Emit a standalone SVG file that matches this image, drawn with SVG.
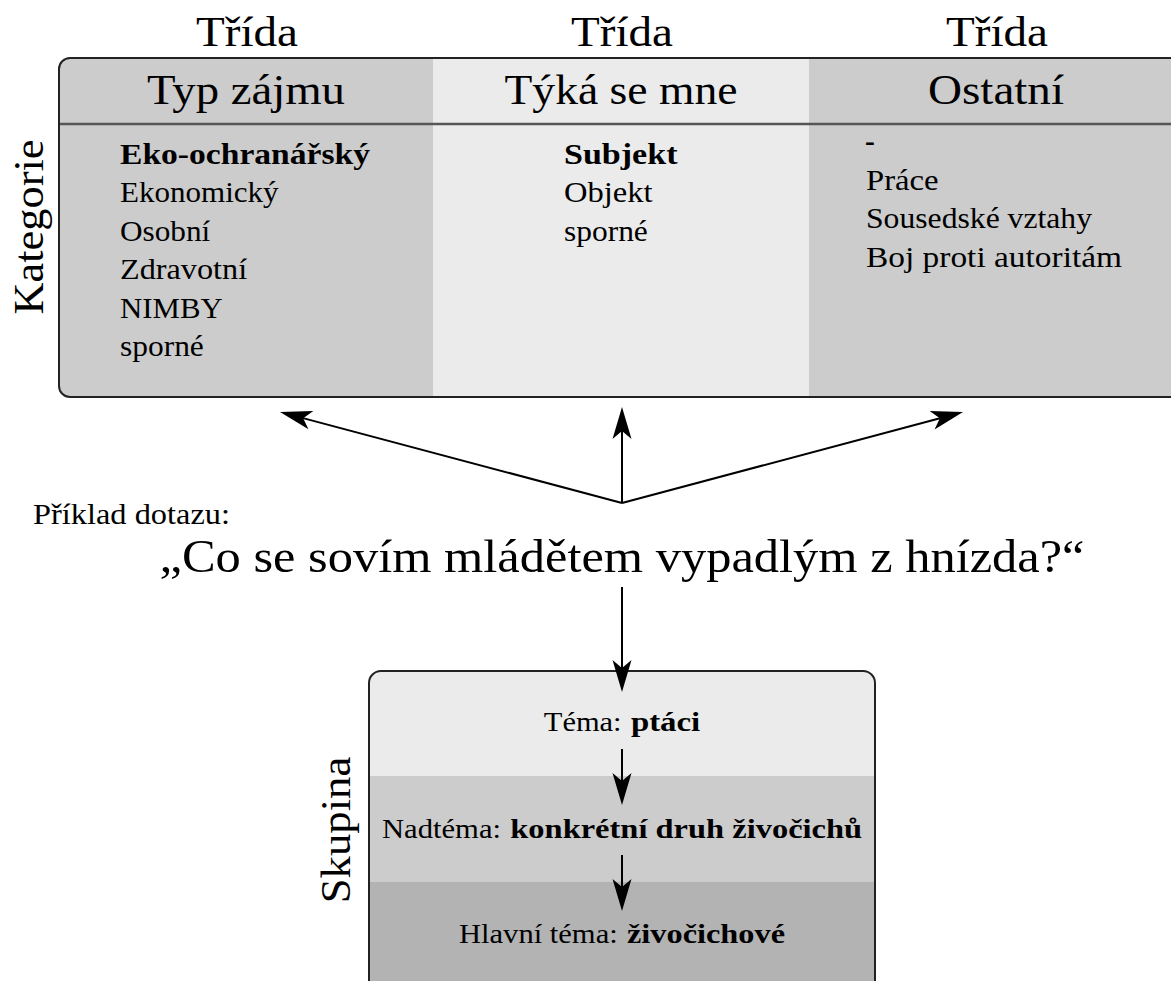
<svg xmlns="http://www.w3.org/2000/svg" width="1171" height="981" viewBox="0 0 1171 981">
  <defs>
    <style>
      .t { font-family: "Liberation Serif", "DejaVu Serif", serif; fill: #000; }
      .h { font-size: 41.5px; text-anchor: middle; }
      .b { font-size: 29.5px; }
      .s { font-size: 28px; }
      .bold { font-weight: bold; }
      .conn { stroke: #000; stroke-width: 2; fill: none; marker-end: url(#arr); }
      .border { fill: none; stroke: #222; stroke-width: 2; }
    </style>
    <marker id="arr" markerUnits="userSpaceOnUse" markerWidth="40" markerHeight="24" viewBox="-14 -12 36 24" refX="0" refY="0" orient="auto" overflow="visible">
      <path d="M20,0 L-12,-9.5 L-4,0 L-12,9.5 Z" fill="#000"/>
    </marker>
    <clipPath id="topClip">
      <rect x="59" y="58" width="1125" height="339" rx="11" ry="11"/>
    </clipPath>
    <clipPath id="botClip">
      <rect x="369" y="671" width="506" height="340" rx="12" ry="12"/>
    </clipPath>
  </defs>

  <rect width="1171" height="981" fill="#fff"/>

  <!-- Top table -->
  <g id="kategorie-table">
    <g clip-path="url(#topClip)">
      <rect x="59" y="58" width="374" height="339" fill="#cccccc"/>
      <rect x="433" y="58" width="376" height="339" fill="#ebebeb"/>
      <rect x="809" y="58" width="375" height="339" fill="#cccccc"/>
    </g>
    <line x1="59" y1="124" x2="1184" y2="124" stroke="#555" stroke-width="2.5"/>
    <rect class="border" x="59" y="58" width="1125" height="339" rx="11" ry="11"/>
    <text class="t h" transform="translate(43,227) rotate(-90)" x="0" y="0" textLength="175" lengthAdjust="spacingAndGlyphs">Kategorie</text>
  </g>

  <g id="col-typ-zajmu">
    <text class="t h" x="247" y="46" textLength="102" lengthAdjust="spacingAndGlyphs">Třída</text>
    <text class="t h" x="246" y="104" textLength="198" lengthAdjust="spacingAndGlyphs">Typ zájmu</text>
    <text class="t b bold" x="120" y="164" textLength="250" lengthAdjust="spacingAndGlyphs">Eko-ochranářský</text>
    <text class="t b" x="120" y="202" textLength="158.6" lengthAdjust="spacingAndGlyphs">Ekonomický</text>
    <text class="t b" x="120" y="241" textLength="90.3" lengthAdjust="spacingAndGlyphs">Osobní</text>
    <text class="t b" x="120" y="279" textLength="127.1" lengthAdjust="spacingAndGlyphs">Zdravotní</text>
    <text class="t b" x="120" y="318" textLength="102.8" lengthAdjust="spacingAndGlyphs">NIMBY</text>
    <text class="t b" x="120" y="356" textLength="83.8" lengthAdjust="spacingAndGlyphs">sporné</text>
  </g>

  <g id="col-tyka-se-mne">
    <text class="t h" x="622" y="46" textLength="102" lengthAdjust="spacingAndGlyphs">Třída</text>
    <text class="t h" x="621" y="104" textLength="233" lengthAdjust="spacingAndGlyphs">Týká se mne</text>
    <text class="t b bold" x="564" y="164" textLength="113.5" lengthAdjust="spacingAndGlyphs">Subjekt</text>
    <text class="t b" x="564" y="202" textLength="88.5" lengthAdjust="spacingAndGlyphs">Objekt</text>
    <text class="t b" x="564" y="241" textLength="83.8" lengthAdjust="spacingAndGlyphs">sporné</text>
  </g>

  <g id="col-ostatni">
    <text class="t h" x="997" y="46" textLength="102" lengthAdjust="spacingAndGlyphs">Třída</text>
    <text class="t h" x="996" y="104" textLength="136" lengthAdjust="spacingAndGlyphs">Ostatní</text>
    <text class="t b bold" x="865" y="151">-</text>
    <text class="t b" x="866" y="190" textLength="72.6" lengthAdjust="spacingAndGlyphs">Práce</text>
    <text class="t b" x="866" y="228" textLength="226" lengthAdjust="spacingAndGlyphs">Sousedské vztahy</text>
    <text class="t b" x="866" y="267" textLength="256" lengthAdjust="spacingAndGlyphs">Boj proti autoritám</text>
  </g>

  <!-- Query -->
  <g id="query">
    <text class="t b" x="33" y="524" textLength="197" lengthAdjust="spacingAndGlyphs">Příklad dotazu:</text>
    <text class="t" x="622" y="572" font-size="46.3" text-anchor="middle" textLength="925" lengthAdjust="spacingAndGlyphs">„Co se sovím mládětem vypadlým z hnízda?“</text>
  </g>

  <!-- Skupina box -->
  <g id="skupina">
    <g clip-path="url(#botClip)">
      <rect x="369" y="671" width="506" height="105" fill="#ebebeb"/>
      <rect x="369" y="776" width="506" height="106" fill="#cccccc"/>
      <rect x="369" y="882" width="506" height="129" fill="#b3b3b3"/>
    </g>
    <rect class="border" x="369" y="671" width="506" height="340" rx="12" ry="12"/>
    <text class="t h" transform="translate(350,830) rotate(-90)" x="0" y="0" textLength="146.5" lengthAdjust="spacingAndGlyphs">Skupina</text>
  </g>

  <g id="tema">
    <text class="t s" x="543.8" y="731" textLength="77.8" lengthAdjust="spacingAndGlyphs">Téma:</text>
    <text class="t s bold" x="630.9" y="731" textLength="69.3" lengthAdjust="spacingAndGlyphs">ptáci</text>
  </g>
  <g id="nadtema">
    <text class="t s" x="382" y="838" textLength="119" lengthAdjust="spacingAndGlyphs">Nadtéma:</text>
    <text class="t s bold" x="510.3" y="838" textLength="351.8" lengthAdjust="spacingAndGlyphs">konkrétní druh živočichů</text>
  </g>
  <g id="hlavni-tema">
    <text class="t s" x="459" y="943" textLength="158.7" lengthAdjust="spacingAndGlyphs">Hlavní téma:</text>
    <text class="t s bold" x="627" y="943" textLength="158" lengthAdjust="spacingAndGlyphs">živočichové</text>
  </g>

  <!-- Connectors -->
  <g id="connectors">
    <line class="conn" x1="622" y1="503" x2="299.3" y2="417.1"/>
    <line class="conn" x1="622" y1="503" x2="622" y2="427"/>
    <line class="conn" x1="622" y1="503" x2="943.7" y2="417.2"/>
    <line class="conn" x1="622" y1="587" x2="622" y2="672"/>
    <line class="conn" x1="622" y1="749" x2="622" y2="785"/>
    <line class="conn" x1="622" y1="855" x2="622" y2="891"/>
  </g>
</svg>
